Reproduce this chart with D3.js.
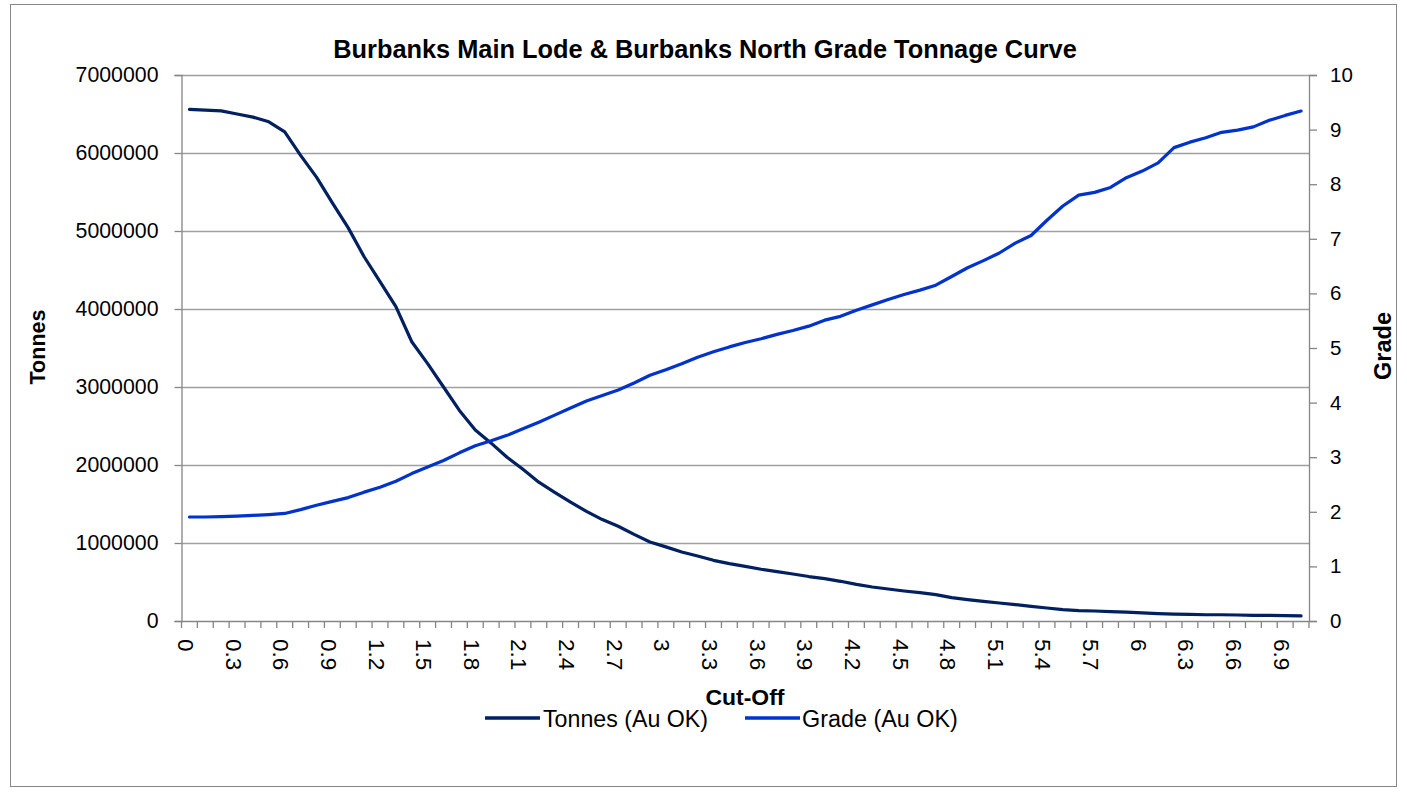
<!DOCTYPE html>
<html><head><meta charset="utf-8">
<script src="https://cdn.jsdelivr.net/npm/d3@7"></script>
<style>body{margin:0;background:#fff}svg{display:block}text{font-family:"Liberation Sans",Arial,sans-serif;fill:#000}</style>
</head><body><svg id="c" width="1407" height="792"></svg>
<script>
const title = "Burbanks Main Lode & Burbanks North Grade Tonnage Curve";
const cutoffs = d3.range(0, 71).map(i => +(i / 10).toFixed(1));
const tonnes = [6560000,6550000,6540000,6500000,6460000,6400000,6270000,5970000,5690000,5360000,
5040000,4670000,4350000,4030000,3580000,3300000,3000000,2700000,2450000,2280000,
2100000,1945000,1780000,1650000,1525000,1405000,1300000,1215000,1110000,1013000,
950000,885000,833000,778000,735000,700000,663000,633000,603000,570000,
543000,509000,470000,436000,410000,385000,364000,338000,300000,274000,
252000,231000,210000,188000,167000,146000,133000,128000,120000,115000,
103000,95000,88000,85000,80000,80000,77000,73000,72000,70000,65000];
const grade = [1.905,1.905,1.91,1.92,1.935,1.95,1.97,2.04,2.12,2.19,
2.26,2.36,2.45,2.56,2.70,2.82,2.94,3.08,3.21,3.30,
3.40,3.52,3.64,3.77,3.90,4.03,4.13,4.23,4.36,4.50,
4.60,4.71,4.83,4.93,5.02,5.10,5.17,5.25,5.32,5.40,
5.51,5.58,5.69,5.79,5.89,5.98,6.06,6.15,6.31,6.47,
6.60,6.74,6.92,7.06,7.34,7.60,7.80,7.85,7.94,8.12,
8.24,8.39,8.67,8.77,8.85,8.95,8.99,9.05,9.17,9.26,9.34];
const leftTicks = [0,1000000,2000000,3000000,4000000,5000000,6000000,7000000];
const rightTicks = [0,1,2,3,4,5,6,7,8,9,10];
const seriesNames = ["Tonnes (Au OK)", "Grade (Au OK)"];
const colors = ["#002060", "#0033cc"];

const svg = d3.select("#c");
svg.append("rect").attr("x",10.5).attr("y",4.5).attr("width",1386).attr("height",782)
  .attr("fill","#fff").attr("stroke","#868686");

function fit(sel, target) {
  const w = sel.node().getComputedTextLength();
  const fs = +sel.attr("font-size");
  sel.attr("font-size", fs * target / w);
  return sel;
}

const L = 181.5, R = 1309, T = 75, B = 621;
const x = d3.scaleBand().domain(cutoffs).range([L, R]).padding(0);
const yL = d3.scaleLinear().domain([0, 7000000]).range([B, T]);
const yR = d3.scaleLinear().domain([0, 10]).range([B, T]);
const grid = "#a0a0a0", axc = "#868686";

// gridlines
svg.append("g").selectAll("line").data(leftTicks.slice(1)).join("line")
  .attr("x1", L).attr("x2", R).attr("y1", d => Math.round(yL(d))+0.5).attr("y2", d => Math.round(yL(d))+0.5)
  .attr("stroke", grid).attr("stroke-width", 1.3);

// left axis
const gl = svg.append("g").attr("transform", `translate(${L},0)`)
  .call(d3.axisLeft(yL).tickValues(leftTicks).tickFormat(d3.format("d")).tickSize(7).tickPadding(16));
gl.select(".domain").attr("stroke", axc).attr("stroke-width",1.3);
gl.selectAll(".tick line").attr("stroke", axc).attr("stroke-width",1.3);
gl.selectAll("text").attr("font-size", 21.3).attr("font-family","Liberation Sans, Arial, sans-serif").attr("fill","#000");

// right axis
const gr = svg.append("g").attr("transform", `translate(${R},0)`)
  .call(d3.axisRight(yR).tickValues(rightTicks).tickSize(8).tickPadding(13));
gr.select(".domain").attr("stroke", axc).attr("stroke-width",1.3);
gr.selectAll(".tick line").attr("stroke", axc).attr("stroke-width",1.3);
gr.selectAll("text").attr("font-size", 20.5).attr("font-family","Liberation Sans, Arial, sans-serif").attr("fill","#000");

// bottom axis: ticks at category boundaries
svg.append("line").attr("x1", L).attr("x2", R).attr("y1", B+0.5).attr("y2", B+0.5).attr("stroke", axc).attr("stroke-width",1.3);
const bounds = cutoffs.map(c => x(c)).concat([R]);
svg.append("g").selectAll("line").data(bounds).join("line")
  .attr("x1", d => d).attr("x2", d => d).attr("y1", B).attr("y2", B+7).attr("stroke", axc).attr("stroke-width",1.3);
svg.append("g").selectAll("text").data(cutoffs.filter((c,i) => i % 3 === 0)).join("text")
  .attr("transform", d => `translate(${x(d) + x.bandwidth()/2 - 4},639) rotate(90)`)
  .attr("text-anchor","start").attr("dominant-baseline","central").attr("font-size",22.5)
  .text(d => d3.format("")(d));

// lines
const lineT = d3.line().x((d,i) => x(cutoffs[i]) + x.bandwidth()/2).y(d => yL(d));
const lineG = d3.line().x((d,i) => x(cutoffs[i]) + x.bandwidth()/2).y(d => yR(d));
svg.append("path").datum(tonnes).attr("d", lineT).attr("fill","none").attr("stroke",colors[0]).attr("stroke-width",3.2).attr("stroke-linejoin","round").attr("stroke-linecap","round");
svg.append("path").datum(grade).attr("d", lineG).attr("fill","none").attr("stroke",colors[1]).attr("stroke-width",3.2).attr("stroke-linejoin","round").attr("stroke-linecap","round");

// titles
fit(svg.append("text").attr("x", 705).attr("y", 58).attr("text-anchor","middle")
  .attr("font-weight","bold").attr("font-size",20).text(title), 744);
fit(svg.append("text").attr("transform","translate(45,347) rotate(-90)").attr("text-anchor","middle")
  .attr("font-weight","bold").attr("font-size",20).text("Tonnes"), 75);
fit(svg.append("text").attr("transform","translate(1391,346) rotate(-90)").attr("text-anchor","middle")
  .attr("font-weight","bold").attr("font-size",20).text("Grade"), 68);
fit(svg.append("text").attr("x",745).attr("y",705).attr("text-anchor","middle")
  .attr("font-weight","bold").attr("font-size",20).text("Cut-Off"), 79);

// legend
const leg = [{x1:485,x2:540,tx:543,w:165},{x1:745,x2:800,tx:802,w:156}];
leg.forEach((l,i) => {
  svg.append("line").attr("x1",l.x1).attr("x2",l.x2).attr("y1",718).attr("y2",718).attr("stroke",colors[i]).attr("stroke-width",3.5);
  fit(svg.append("text").attr("x",l.tx).attr("y",719).attr("dominant-baseline","central").attr("font-size",20).text(seriesNames[i]), l.w);
});
</script></body></html>
